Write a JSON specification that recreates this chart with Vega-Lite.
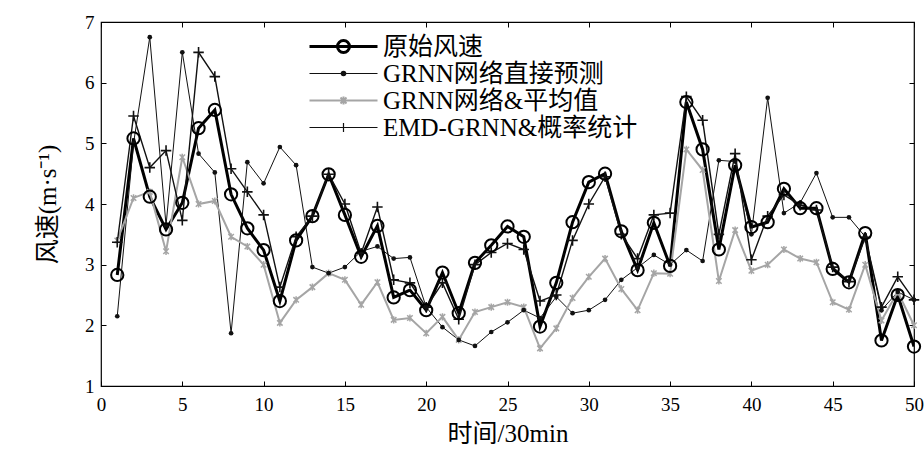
{
  "$schema": "https://vega.github.io/schema/vega-lite/v6.json",
  "width": 813,
  "height": 364,
  "autosize": {"type": "none"},
  "padding": {"left": 101, "top": 22, "right": 10, "bottom": 73},
  "background": "white",
  "config": {
    "view": {"stroke": "black", "strokeWidth": 1.2},
    "font": "Liberation Serif, Noto Sans CJK SC",
    "axis": {
      "labelFont": "Liberation Serif, Noto Sans CJK SC",
      "titleFont": "Liberation Serif, Noto Sans CJK SC",
      "labelColor": "black",
      "titleColor": "black",
      "tickColor": "black",
      "grid": false,
      "domain": false,
      "titleFontWeight": "normal"
    }
  },
  "data": {
    "values": [
      {"t": 1, "原始风速": 2.83, "GRNN网络直接预测": 2.15, "GRNN网络&平均值": 3.4, "EMD-GRNN&概率统计": 3.37},
      {"t": 2, "原始风速": 5.08, "GRNN网络直接预测": 5.0, "GRNN网络&平均值": 4.1, "EMD-GRNN&概率统计": 5.45},
      {"t": 3, "原始风速": 4.12, "GRNN网络直接预测": 6.75, "GRNN网络&平均值": 4.2, "EMD-GRNN&概率统计": 4.6},
      {"t": 4, "原始风速": 3.58, "GRNN网络直接预测": 3.65, "GRNN网络&平均值": 3.22, "EMD-GRNN&概率统计": 4.88},
      {"t": 5, "原始风速": 4.02, "GRNN网络直接预测": 6.5, "GRNN网络&平均值": 4.77, "EMD-GRNN&概率统计": 3.73},
      {"t": 6, "原始风速": 5.25, "GRNN网络直接预测": 4.83, "GRNN网络&平均值": 4.0, "EMD-GRNN&概率统计": 6.5},
      {"t": 7, "原始风速": 5.55, "GRNN网络直接预测": 4.52, "GRNN网络&平均值": 4.05, "EMD-GRNN&概率统计": 6.1},
      {"t": 8, "原始风速": 4.16, "GRNN网络直接预测": 1.87, "GRNN网络&平均值": 3.46, "EMD-GRNN&概率统计": 4.58},
      {"t": 9, "原始风速": 3.6, "GRNN网络直接预测": 4.69, "GRNN网络&平均值": 3.3, "EMD-GRNN&概率统计": 4.2},
      {"t": 10, "原始风速": 3.24, "GRNN网络直接预测": 4.34, "GRNN网络&平均值": 3.0, "EMD-GRNN&概率统计": 3.82},
      {"t": 11, "原始风速": 2.4, "GRNN网络直接预测": 4.94, "GRNN网络&平均值": 2.04, "EMD-GRNN&概率统计": 2.63},
      {"t": 12, "原始风速": 3.4, "GRNN网络直接预测": 4.64, "GRNN网络&平均值": 2.42, "EMD-GRNN&概率统计": 3.46},
      {"t": 13, "原始风速": 3.8, "GRNN网络直接预测": 2.96, "GRNN网络&平均值": 2.63, "EMD-GRNN&概率统计": 3.8},
      {"t": 14, "原始风速": 4.49, "GRNN网络直接预测": 2.86, "GRNN网络&平均值": 2.86, "EMD-GRNN&概率统计": 4.49},
      {"t": 15, "原始风速": 3.82, "GRNN网络直接预测": 2.96, "GRNN网络&平均值": 2.75, "EMD-GRNN&概率统计": 4.0},
      {"t": 16, "原始风速": 3.13, "GRNN网络直接预测": 3.22, "GRNN网络&平均值": 2.34, "EMD-GRNN&概率统计": 3.19},
      {"t": 17, "原始风速": 3.64, "GRNN网络直接预测": 3.3, "GRNN网络&平均值": 2.71, "EMD-GRNN&概率统计": 3.95},
      {"t": 18, "原始风速": 2.46, "GRNN网络直接预测": 3.1, "GRNN网络&平均值": 2.09, "EMD-GRNN&概率统计": 2.75},
      {"t": 19, "原始风速": 2.58, "GRNN网络直接预测": 3.12, "GRNN网络&平均值": 2.12, "EMD-GRNN&概率统计": 2.7},
      {"t": 20, "原始风速": 2.25, "GRNN网络直接预测": 2.3, "GRNN网络&平均值": 1.87, "EMD-GRNN&概率统计": 2.3},
      {"t": 21, "原始风速": 2.87, "GRNN网络直接预测": 1.97, "GRNN网络&平均值": 2.14, "EMD-GRNN&概率统计": 2.7},
      {"t": 22, "原始风速": 2.2, "GRNN网络直接预测": 1.76, "GRNN网络&平均值": 1.76, "EMD-GRNN&概率统计": 2.1},
      {"t": 23, "原始风速": 3.03, "GRNN网络直接预测": 1.66, "GRNN网络&平均值": 2.22, "EMD-GRNN&概率统计": 3.0},
      {"t": 24, "原始风速": 3.32, "GRNN网络直接预测": 1.89, "GRNN网络&平均值": 2.3, "EMD-GRNN&概率统计": 3.2},
      {"t": 25, "原始风速": 3.63, "GRNN网络直接预测": 2.05, "GRNN网络&平均值": 2.38, "EMD-GRNN&概率统计": 3.35},
      {"t": 26, "原始风速": 3.46, "GRNN网络直接预测": 2.25, "GRNN网络&平均值": 2.3, "EMD-GRNN&概率统计": 3.25},
      {"t": 27, "原始风速": 1.98, "GRNN网络直接预测": 2.12, "GRNN网络&平均值": 1.62, "EMD-GRNN&概率统计": 2.4},
      {"t": 28, "原始风速": 2.7, "GRNN网络直接预测": 2.47, "GRNN网络&平均值": 1.95, "EMD-GRNN&概率统计": 2.5},
      {"t": 29, "原始风速": 3.7, "GRNN网络直接预测": 2.2, "GRNN网络&平均值": 2.45, "EMD-GRNN&概率统计": 3.4},
      {"t": 30, "原始风速": 4.36, "GRNN网络直接预测": 2.25, "GRNN网络&平均值": 2.8, "EMD-GRNN&概率统计": 4.0},
      {"t": 31, "原始风速": 4.5, "GRNN网络直接预测": 2.42, "GRNN网络&平均值": 3.1, "EMD-GRNN&概率统计": 4.45},
      {"t": 32, "原始风速": 3.55, "GRNN网络直接预测": 2.75, "GRNN网络&平均值": 2.6, "EMD-GRNN&概率统计": 3.5},
      {"t": 33, "原始风速": 2.91, "GRNN网络直接预测": 2.95, "GRNN网络&平均值": 2.25, "EMD-GRNN&概率统计": 3.1},
      {"t": 34, "原始风速": 3.69, "GRNN网络直接预测": 3.16, "GRNN网络&平均值": 2.86, "EMD-GRNN&概率统计": 3.82},
      {"t": 35, "原始风速": 2.98, "GRNN网络直接预测": 3.0, "GRNN网络&平均值": 2.85, "EMD-GRNN&概率统计": 3.85},
      {"t": 36, "原始风速": 5.68, "GRNN网络直接预测": 3.24, "GRNN网络&平均值": 4.9, "EMD-GRNN&概率统计": 5.77},
      {"t": 37, "原始风速": 4.9, "GRNN网络直接预测": 3.06, "GRNN网络&平均值": 4.56, "EMD-GRNN&概率统计": 5.38},
      {"t": 38, "原始风速": 3.25, "GRNN网络直接预测": 4.72, "GRNN网络&平均值": 2.73, "EMD-GRNN&概率统计": 3.5},
      {"t": 39, "原始风速": 4.64, "GRNN网络直接预测": 4.7, "GRNN网络&平均值": 3.57, "EMD-GRNN&概率统计": 4.83},
      {"t": 40, "原始风速": 3.62, "GRNN网络直接预测": 3.5, "GRNN网络&平均值": 2.9, "EMD-GRNN&概率统计": 3.08},
      {"t": 41, "原始风速": 3.7, "GRNN网络直接预测": 5.75, "GRNN网络&平均值": 3.0, "EMD-GRNN&概率统计": 3.8},
      {"t": 42, "原始风速": 4.25, "GRNN网络直接预测": 3.85, "GRNN网络&平均值": 3.25, "EMD-GRNN&概率统计": 4.15},
      {"t": 43, "原始风速": 3.93, "GRNN网络直接预测": 4.02, "GRNN网络&平均值": 3.1, "EMD-GRNN&概率统计": 3.98},
      {"t": 44, "原始风速": 3.93, "GRNN网络直接预测": 4.51, "GRNN网络&平均值": 3.04, "EMD-GRNN&概率统计": 3.9},
      {"t": 45, "原始风速": 2.93, "GRNN网络直接预测": 3.78, "GRNN网络&平均值": 2.38, "EMD-GRNN&概率统计": 2.96},
      {"t": 46, "原始风速": 2.71, "GRNN网络直接预测": 3.78, "GRNN网络&平均值": 2.26, "EMD-GRNN&概率统计": 2.72},
      {"t": 47, "原始风速": 3.52, "GRNN网络直接预测": 3.46, "GRNN网络&平均值": 3.0, "EMD-GRNN&概率统计": 3.45},
      {"t": 48, "原始风速": 1.75, "GRNN网络直接预测": 2.25, "GRNN网络&平均值": 2.08, "EMD-GRNN&概率统计": 2.3},
      {"t": 49, "原始风速": 2.5, "GRNN网络直接预测": 2.55, "GRNN网络&平均值": 2.55, "EMD-GRNN&概率统计": 2.8},
      {"t": 50, "原始风速": 1.65, "GRNN网络直接预测": 2.42, "GRNN网络&平均值": 2.0, "EMD-GRNN&概率统计": 2.42}
    ]
  },
  "transform": [
    {"fold": ["原始风速", "GRNN网络直接预测", "GRNN网络&平均值", "EMD-GRNN&概率统计"], "as": ["series", "v"]}
  ],
  "layer": [
    {
      "mark": {"type": "line", "clip": true},
      "encoding": {
        "x": {
          "field": "t", "type": "quantitative",
          "scale": {"domain": [0, 50], "nice": false, "zero": false},
          "axis": {
            "orient": "bottom", "title": "时间/30min", "titleFontSize": 25, "titlePadding": 7,
            "labelFontSize": 19, "values": [0, 5, 10, 15, 20, 25, 30, 35, 40, 45, 50],
            "tickSize": -5, "labelPadding": 14, "labelFlush": false
          }
        },
        "y": {
          "field": "v", "type": "quantitative",
          "scale": {"domain": [1, 7], "nice": false, "zero": false},
          "axis": {
            "orient": "left", "title": "风速(m·s⁻¹)", "titleFontSize": 25, "titlePadding": 24,
            "labelFontSize": 19, "values": [1, 2, 3, 4, 5, 6, 7],
            "tickSize": -5, "labelPadding": 12
          }
        },
        "color": {
          "field": "series", "type": "nominal",
          "scale": {
            "domain": ["原始风速", "GRNN网络直接预测", "GRNN网络&平均值", "EMD-GRNN&概率统计"],
            "range": ["#000000", "#111111", "#a5a5a5", "#111111"]
          },
          "legend": {
            "orient": "none", "legendX": 206, "legendY": 12, "title": null,
            "padding": 0, "symbolSize": 400, "symbolOffset": 24, "labelOffset": 27,
            "rowPadding": 1, "labelFontSize": 25, "labelFont": "Liberation Serif, Noto Sans CJK SC",
            "labelColor": "black", "labelLimit": 400,
            "encode": {
              "symbols": {
                "update": {
                  "shape": {"signal": "datum.value === '原始风速' ? 'M-3.4,0L3.4,0M0.6,0A0.6,0.6 0 1,1 -0.6,0A0.6,0.6 0 1,1 0.6,0' : datum.value === 'GRNN网络直接预测' ? 'M-3.4,0L3.4,0M0.22,0A0.22,0.22 0 1,1 -0.22,0A0.22,0.22 0 1,1 0.22,0' : datum.value === 'GRNN网络&平均值' ? 'M-3.4,0L3.4,0M-0.3,-0.3L0.3,0.3M-0.3,0.3L0.3,-0.3M0,-0.4L0,0.4' : 'M-3.4,0L3.4,0M0,-0.45L0,0.45M-0.4,0L0.4,0'"},
                  "strokeWidth": {"signal": "datum.value === '原始风速' ? 3 : datum.value === 'GRNN网络&平均值' ? 2 : 1.2"},
                  "fill": {"signal": "datum.value === 'GRNN网络直接预测' ? '#111' : 'transparent'"},
                  "opacity": {"value": 1}
                }
              }
            }
          }
        },
        "strokeWidth": {
          "condition": [
            {"test": "datum.series === '原始风速'", "value": 3},
            {"test": "datum.series === 'GRNN网络&平均值'", "value": 2},
            {"test": "datum.series === 'EMD-GRNN&概率统计'", "value": 1.4}
          ],
          "value": 1
        }
      }
    },
    {
      "transform": [{"filter": {"field": "series", "equal": "GRNN网络&平均值"}}],
      "mark": {"type": "point", "shape": "M-1,-1L1,1M-1,1L1,-1M0,-1.3L0,1.3", "size": 30, "filled": false, "stroke": "#a5a5a5", "strokeWidth": 1.5, "opacity": 1},
      "encoding": {
        "x": {"field": "t", "type": "quantitative", "axis": {"orient": "top", "labels": false, "title": null, "tickSize": -5, "values": [0, 5, 10, 15, 20, 25, 30, 35, 40, 45, 50]}},
        "y": {"field": "v", "type": "quantitative", "axis": {"orient": "right", "labels": false, "title": null, "tickSize": -5, "values": [1, 2, 3, 4, 5, 6, 7]}}
      }
    },
    {
      "transform": [{"filter": {"field": "series", "equal": "GRNN网络直接预测"}}],
      "mark": {"type": "point", "shape": "circle", "size": 22, "filled": true, "color": "#111111", "opacity": 1},
      "encoding": {
        "x": {"field": "t", "type": "quantitative", "axis": null},
        "y": {"field": "v", "type": "quantitative", "axis": null}
      }
    },
    {
      "transform": [{"filter": {"field": "series", "equal": "EMD-GRNN&概率统计"}}],
      "mark": {"type": "point", "shape": "M-1,0L1,0M0,-1L0,1", "size": 110, "filled": false, "stroke": "#111111", "strokeWidth": 1.6, "opacity": 1},
      "encoding": {
        "x": {"field": "t", "type": "quantitative", "axis": null},
        "y": {"field": "v", "type": "quantitative", "axis": null}
      }
    },
    {
      "transform": [{"filter": {"field": "series", "equal": "原始风速"}}],
      "mark": {"type": "point", "shape": "circle", "size": 150, "filled": false, "stroke": "#000000", "strokeWidth": 2, "opacity": 1},
      "encoding": {
        "x": {"field": "t", "type": "quantitative", "axis": null},
        "y": {"field": "v", "type": "quantitative", "axis": null}
      }
    }
  ],
  "resolve": {"axis": {"x": "independent", "y": "independent"}}
}
